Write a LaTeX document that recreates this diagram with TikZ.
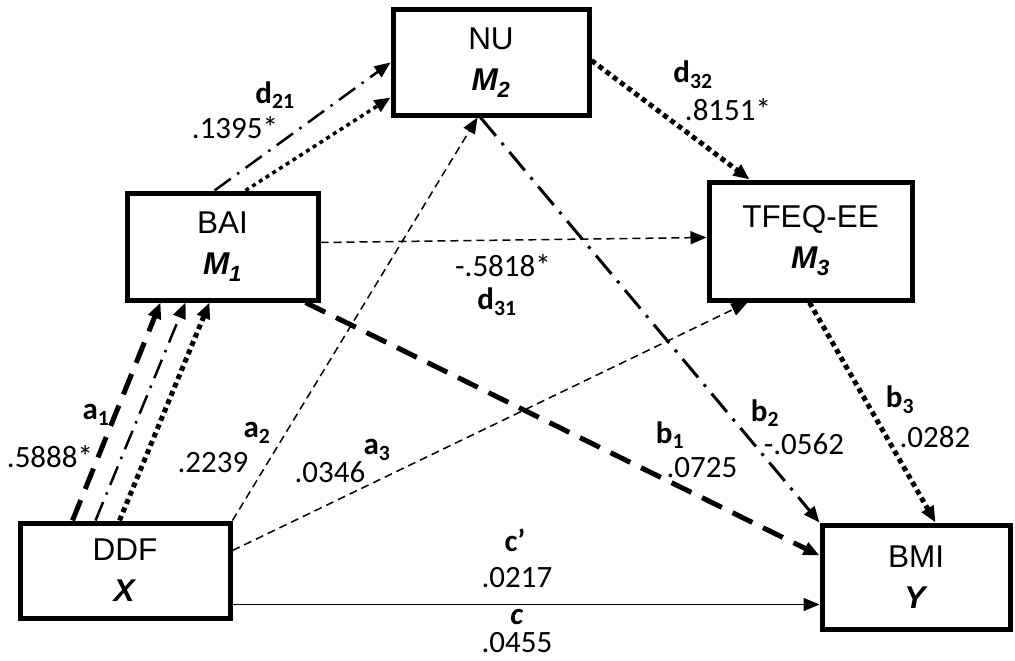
\documentclass[tikz,border=0pt]{standalone}
\usepackage{fontspec}
\setmainfont{Liberation Sans}
\newfontfamily\lblfont{Carlito}
\usetikzlibrary{arrows.meta}
\newcommand{\coef}[2]{\textbf{#1}\textsubscript{\textbf{#2}}}
\tikzset{
  var/.style={draw, line width=5pt, align=center, inner sep=0pt,
    font=\fontsize{31.5}{41}\selectfont},
  lbl/.style={inner sep=0pt, font=\lblfont\fontsize{31}{34}\selectfont},
  pathdash/.style={line width=5pt, dash pattern=on 22pt off 12pt},
  pathdashdot/.style={line width=2.5pt, dash pattern=on 20pt off 8pt on 2.5pt off 8pt},
  pathdot/.style={line width=5pt, dash pattern=on 5pt off 4pt},
  paththin/.style={line width=1.5pt, dash pattern=on 8pt off 5pt},
  >={Triangle[length=16pt,width=13pt]}
}
\begin{document}
\begin{tikzpicture}[x=1pt, y=-1pt]
\useasboundingbox (0,0) rectangle (1015,661);
% variables
\node[var, minimum width=210pt, minimum height=95pt] (ddf) at (125,570.5) {DDF\\\textbf{\textit{X}}};
\node[var, minimum width=191pt, minimum height=107pt] (bai) at (222.5,246.5) {BAI\\\textbf{\textit{M\textsubscript{1}}}};
\node[var, minimum width=196pt, minimum height=105pt] (nu) at (491,62.5) {NU\\\textbf{\textit{M\textsubscript{2}}}};
\node[var, minimum width=203pt, minimum height=118pt] (tfeq) at (810.5,241) {TFEQ-EE\\\textbf{\textit{M\textsubscript{3}}}};
\node[var, minimum width=188pt, minimum height=104pt] (bmi) at (916,577) {BMI\\\textbf{\textit{Y}}};
% a paths
\draw[pathdash, ->] ([xshift=55pt]ddf.north west) -- ([xshift=36pt]bai.south west);
\draw[pathdashdot, ->] ([xshift=78pt]ddf.north west) -- ([xshift=61pt]bai.south west);
\draw[pathdot, ->] ([xshift=102pt]ddf.north west) -- ([xshift=85pt]bai.south west);
\draw[paththin, ->] (ddf.north east) -- ([xshift=87pt]nu.south west);
\draw[paththin, ->] ([yshift=-30pt]ddf.north east) -- ([xshift=41pt]tfeq.south west);
% d paths
\draw[pathdashdot, ->] ([xshift=90pt]bai.north west) -- ([yshift=-55pt]nu.north west);
\draw[pathdot, line width=3.5pt, dash pattern=on 4pt off 4pt, ->] ([xshift=121pt]bai.north west) -- ([yshift=-90pt]nu.north west);
\draw[paththin, ->] ([yshift=-52pt]bai.north east) -- ([yshift=-58pt]tfeq.north west);
\draw[pathdot, ->] ([yshift=-53pt]nu.north east) -- ([xshift=43pt]tfeq.north west);
% b paths
\draw[pathdash, ->] ([xshift=-15pt]bai.south east) -- ([yshift=-33pt]bmi.north west);
\draw[pathdashdot, line width=3pt, dash pattern=on 24pt off 9pt on 3pt off 9pt, ->] ([xshift=90pt]nu.south west) -- (bmi.north west);
\draw[pathdot, ->] ([xshift=103pt]tfeq.south west) -- ([xshift=116pt]bmi.north west);
% c path
\draw[line width=1.5pt, ->] ([yshift=16pt]ddf.south east) -- ([yshift=27pt]bmi.south west);
% labels
\node[lbl] (la1) at (96,415) {\coef{a}{1}};
\node[lbl] (va1) at (50,457) {.5888*};
\node[lbl] (la2) at (257,433) {\coef{a}{2}};
\node[lbl] (va2) at (213,463) {.2239};
\node[lbl] (la3) at (377,450) {\coef{a}{3}};
\node[lbl] (va3) at (330,472) {.0346};
\node[lbl] (ld21) at (275,95) {\coef{d}{21}};
\node[lbl] (vd21) at (235,128) {.1395*};
\node[lbl] (ld32) at (693,75) {\coef{d}{32}};
\node[lbl] (vd32) at (728,110) {.8151*};
\node[lbl] (vd31) at (503,266) {-.5818*};
\node[lbl] (ld31) at (497,302) {\coef{d}{31}};
\node[lbl] (lb1) at (670,435) {\coef{b}{1}};
\node[lbl] (vb1) at (702,468) {.0725};
\node[lbl] (lb2) at (765,413) {\coef{b}{2}};
\node[lbl] (vb2) at (804,444) {-.0562};
\node[lbl] (lb3) at (900,400) {\coef{b}{3}};
\node[lbl] (vb3) at (935,437) {.0282};
\node[lbl] (lcp) at (515,540) {\textbf{c’}};
\node[lbl] (vcp) at (517,578) {.0217};
\node[lbl, align=center, font=\lblfont\fontsize{31}{28.5}\selectfont] (lc) at (517,631) {\textbf{\textit{c}}\\.0455};
\end{tikzpicture}
\end{document}
